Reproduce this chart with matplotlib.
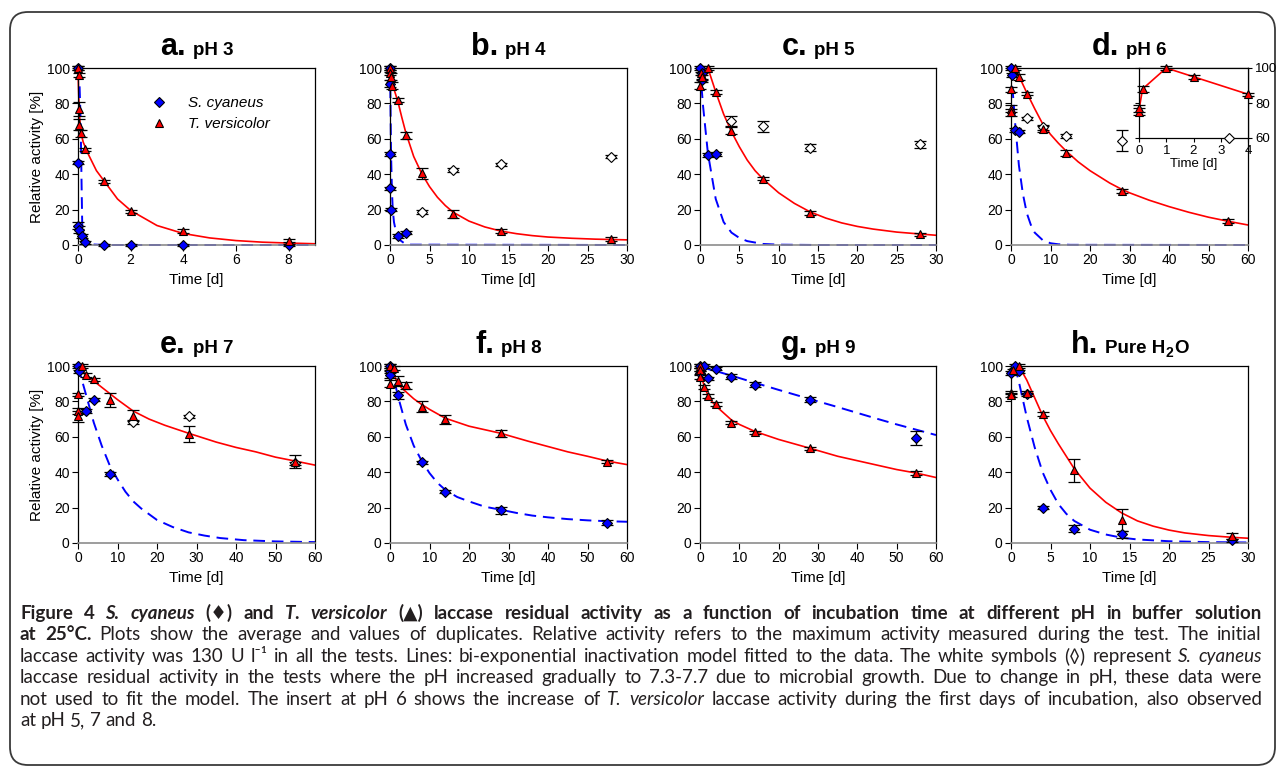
import numpy as np
import matplotlib
matplotlib.use('Agg')
import matplotlib.pyplot as plt
from matplotlib.lines import Line2D
from matplotlib.patches import FancyBboxPatch
from matplotlib.transforms import IdentityTransform

plt.rcParams['font.family'] = ['Liberation Sans', 'DejaVu Sans']

W, H = 1284, 768
BLUE = '#0000ff'
RED = '#ff0000'

#Panel a: pH 3
a_tv_t = [0, 0.02, 0.02, 0.05, 0.1, 0.25, 1, 2, 4, 8]
a_tv_v = [100, 96, 77, 68, 63, 54, 36, 19, 8, 2.5]
a_tv_e = [1, 1, 4, 3, 2, 1, 1, 1, 1, 1]
a_sc_t = [0, 0, 0, 0.05, 0.15, 0.25, 1, 2, 4, 8]
a_sc_v = [100, 46.5, 11, 8.5, 5, 1.5, 0, 0, 0, 0]
a_sc_e = [1, 1, 2, 2, 1, 1, 0.5, 0.5, 0.5, 0.5]
a_fit_tv_t = [0, 0.02, 0.05, 0.1, 0.2, 0.4, 0.7, 1, 1.5, 2, 3, 4, 5, 6, 7, 8, 9]
a_fit_tv_v = [100, 88, 75, 64, 58, 51, 42, 36, 26, 19.5, 11, 6.5, 4, 2.5, 1.6, 1.1, 0.7]
a_fit_sc_t = [0, 0.05, 0.1, 0.13, 0.16, 0.2, 0.3, 1, 9]
a_fit_sc_v = [100, 95, 70, 40, 12, 3, 0.5, 0, 0]

#Panel b: pH 4
b_tv_t = [0, 0.05, 0.1, 0.2, 1, 2, 4, 8, 14, 28]
b_tv_v = [100, 97, 95, 90, 82, 62, 40.5, 17.5, 8, 3.5]
b_tv_e = [1, 1, 2, 2, 1, 2, 3, 2, 1, 1]
b_sc_t = [0, 0, 0, 0, 0.1, 1, 2]
b_sc_v = [100, 91, 51.5, 32, 20, 5, 7]
b_sc_e = [1, 2, 1, 1, 1, 1, 1]
b_wh_t = [4, 8, 14, 28]
b_wh_v = [18.5, 42.5, 45.5, 50]
b_wh_e = [1, 1, 1, 1]
b_fit_tv_t = [0, 0.3, 1, 1.5, 2, 3, 4, 5, 6, 7, 8, 10, 12, 14, 16, 18, 20, 23, 26, 30]
b_fit_tv_v = [97, 91, 81, 72, 63.5, 50, 40.5, 33, 27, 22.3, 18.5, 13.5, 10.2, 7.9, 6.4, 5.3, 4.5, 3.8, 3.3, 2.9]
b_fit_sc_t = [0, 0.05, 0.13, 0.25, 0.35, 0.5, 0.8, 1.2, 1.8, 2.5, 30]
b_fit_sc_v = [100, 85, 52, 30, 20, 13, 6.5, 3, 1, 0.2, 0]

#Panel c: pH 5
c_tv_t = [0, 0.1, 0.2, 1, 2, 4, 8, 14, 28]
c_tv_v = [90, 97, 95, 100, 86.5, 64.5, 37.5, 18, 6]
c_tv_e = [2, 1, 2, 1, 1, 2, 1, 1, 1]
c_sc_t = [0, 0.2, 0.2, 1, 2]
c_sc_v = [100, 97, 93, 51, 51.5]
c_sc_e = [1, 1, 1, 1, 1]
c_wh_t = [4, 8, 14, 28]
c_wh_v = [70, 67, 55, 57]
c_wh_e = [3, 3, 2, 2]
c_fit_tv_t = [1, 2, 3, 4, 5, 6, 7, 8, 10, 12, 14, 16, 18, 20, 22, 25, 28, 30]
c_fit_tv_v = [100, 86.5, 74, 64, 55.5, 48, 42, 37.3, 29.5, 23.5, 18.7, 15.2, 12.5, 10.5, 9, 7.3, 6.2, 5.5]
c_fit_sc_t = [0, 0.4, 1, 2, 3, 4, 5, 6, 8, 10, 15, 30]
c_fit_sc_v = [100, 78, 52, 26, 13, 7, 4, 2.2, 0.6, 0.2, 0, 0]

#Panel d: pH 6
d_tv_t = [0, 0, 0, 1, 2, 4, 8, 14, 28, 55]
d_tv_v = [88, 77, 75, 100, 95, 85.5, 65.5, 52, 30.5, 13.5]
d_tv_e = [1.5, 2, 2, 1, 1.5, 1, 1.5, 1.5, 1, 1]
d_sc_t = [0, 0.2, 1, 2]
d_sc_v = [100, 96, 65, 64]
d_sc_e = [1, 1, 1, 1]
d_wh_t = [4, 8, 14, 28]
d_wh_v = [71.5, 66.5, 61.5, 59]
d_wh_e = [1, 1.5, 1, 6]
d_fit_tv_t = [1, 2, 4, 6, 8, 10, 12, 14, 17, 20, 25, 28, 30, 35, 40, 45, 50, 55, 60]
d_fit_tv_v = [100, 95.5, 86, 77, 68.5, 62.5, 57.5, 53, 47, 42, 35, 31.5, 29.5, 25.3, 21.7, 18.5, 15.7, 13.4, 11.3]
d_fit_sc_t = [0, 0.5, 1, 2, 3, 4, 5, 6, 8, 10, 12, 15, 60]
d_fit_sc_v = [100, 85, 70, 45, 29, 18, 11.5, 7, 2.8, 1, 0.4, 0.1, 0]
#insert of panel d (first days)
d_in_t = [0, 0, 0.13, 1, 2, 4]
d_in_v = [75, 77, 88, 100, 95, 85]
d_in_e = [2, 2, 1.5, 1, 1, 1]
d_in_line_t = [0, 0.13, 1, 2, 4]
d_in_line_v = [76, 88, 100, 95, 85]
d_in_wh_t = [3.3]
d_in_wh_v = [60]

#Panel e: pH 7
e_tv_t = [0, 0, 0, 1, 2, 4, 8, 14, 28, 55]
e_tv_v = [84, 74.5, 71.5, 100, 95, 92.5, 81, 72, 61.5, 46]
e_tv_e = [1, 1.5, 3, 1, 1, 1, 4, 3, 4.5, 3.5]
e_sc_t = [0, 0.2, 2, 4, 8]
e_sc_v = [100, 97, 74.5, 81, 39]
e_sc_e = [1, 1, 1, 1, 1]
e_wh_t = [14, 28, 55]
e_wh_v = [68.5, 71.5, 45]
e_wh_e = [1, 1, 1]
e_fit_tv_t = [0.5, 1, 2, 4, 6, 8, 10, 14, 18, 22, 28, 35, 40, 45, 50, 55, 60]
e_fit_tv_v = [99, 97.5, 95, 91.5, 88, 84.5, 81, 74.5, 70, 66.5, 62, 57, 54, 51.5, 48.5, 46.3, 44]
e_fit_sc_t = [0, 1, 2, 3, 4, 6, 8, 10, 12, 14, 16, 20, 24, 28, 32, 36, 42, 50, 60]
e_fit_sc_v = [100, 92, 84, 76, 68, 55, 44, 36, 29, 23.5, 19.5, 13, 9, 6, 4.2, 2.8, 1.6, 0.9, 0.5]

#Panel f: pH 8
f_tv_t = [0, 0, 1, 2, 4, 8, 14, 28, 55]
f_tv_v = [100, 90, 99, 91.5, 89, 77, 70, 62, 46]
f_tv_e = [1, 2, 1, 3, 2, 3, 2.5, 2, 1]
f_sc_t = [0, 0, 0, 2, 8, 14, 28, 55]
f_sc_v = [100, 97, 95, 83.5, 45.5, 29, 18.5, 11.5]
f_sc_e = [1, 1, 2, 2, 1, 1, 2, 1.5]
f_fit_tv_t = [0.2, 1, 2, 3, 4, 6, 8, 10, 14, 20, 28, 35, 40, 45, 50, 55, 60]
f_fit_tv_v = [100, 95, 90, 87.5, 85.5, 81.5, 78.3, 75.5, 70.5, 66, 62, 57.5, 54.5, 51.5, 49, 46.3, 44.3]
f_fit_sc_t = [0, 1, 2, 3, 4, 6, 8, 10, 12, 14, 17, 20, 24, 28, 32, 36, 40, 45, 50, 55, 60]
f_fit_sc_v = [100, 93, 83, 75, 67, 55, 46.5, 39.5, 34, 30, 26, 23.5, 20.5, 18.8, 17, 15.5, 14.5, 13.5, 12.8, 12.3, 12]

#Panel g: pH 9
g_tv_t = [0, 0, 0, 1, 2, 4, 8, 14, 28, 55]
g_tv_v = [100, 98, 94, 88, 83, 78.5, 68, 62.5, 53.5, 39.5]
g_tv_e = [1, 1, 1.5, 1, 1, 1, 1, 1, 1, 1]
g_sc_t = [0, 0, 1, 2, 4, 8, 14, 28, 55]
g_sc_v = [100, 96, 100, 93, 98.5, 94, 89.5, 81, 59.5]
g_sc_e = [1, 1, 1, 1, 1, 1.5, 1.5, 1.5, 4]
g_fit_tv_t = [0, 0.5, 1, 2, 3, 4, 6, 8, 10, 14, 20, 28, 35, 40, 45, 50, 55, 60]
g_fit_tv_v = [100, 93, 89, 83.5, 80, 77.5, 73.5, 69.5, 67, 63, 58.5, 53.5, 49, 46.5, 44, 41.5, 39.5, 37]
g_fit_sc_t = [0, 5, 10, 14, 20, 28, 35, 40, 45, 50, 55, 60]
g_fit_sc_v = [99.5, 96.5, 93.2, 90.5, 86.5, 81.3, 76.8, 73.5, 70.2, 67, 64, 61]

#Panel h: pure water
h_tv_t = [0, 0, 0.3, 1, 2, 4, 8, 14, 28]
h_tv_v = [85, 83.5, 97.5, 100, 85, 73, 41, 13, 4]
h_tv_e = [1, 1, 1, 1, 1, 1, 6.5, 6, 1.5]
h_sc_t = [0, 0.5, 1, 2, 4, 8, 14, 28]
h_sc_v = [96, 100, 97, 84, 20, 8, 5, 1.5]
h_sc_e = [1, 1, 1, 1, 1, 2, 2, 1]
h_fit_tv_t = [1, 2, 3, 4, 5, 6, 8, 10, 12, 14, 16, 18, 20, 22, 25, 28, 30]
h_fit_tv_v = [100, 92, 82, 72, 63.5, 56, 42, 31, 23, 17, 12.5, 9.5, 7.3, 5.7, 4.2, 3.2, 2.7]
h_fit_sc_t = [0.5, 1, 1.5, 2, 3, 4, 5, 6, 7, 8, 10, 12, 14, 16, 20, 25, 30]
h_fit_sc_v = [100, 91, 81, 71, 54, 40, 30, 22, 16.5, 12.5, 7.5, 4.8, 3, 2, 1, 0.5, 0.3]

#Caption lines (text, style)
cap_lines = [
    [('Figure 4', 'b'), ('S. cyaneus', 'bi'), ('(\u2666) and', 'b'), ('T. versicolor', 'bi'),
     ('(\u25b2) laccase residual activity as a function of incubation time at different pH in buffer solution', 'b')],
    [('at 25\u00b0C.', 'b'),
     ('Plots show the average and values of duplicates. Relative activity refers to the maximum activity measured during the test. The initial', 'r')],
    [('laccase activity was 130 U l\u207b\u00b9 in all the tests. Lines: bi-exponential inactivation model fitted to the data. The white symbols (\u25ca) represent', 'r'),
     ('S. cyaneus', 'i')],
    [('laccase residual activity in the tests where the pH increased gradually to 7.3-7.7 due to microbial growth. Due to change in pH, these data were', 'r')],
    [('not used to fit the model. The insert at pH 6 shows the increase of', 'r'), ('T. versicolor', 'i'),
     ('laccase activity during the first days of incubation, also observed', 'r')],
    [('at pH 5, 7 and 8.', 'r')],
]

fig = plt.figure(figsize=(W / 100, H / 100), dpi=100)
fig.patch.set_facecolor('white')
renderer = fig.canvas.get_renderer()
PIX = IdentityTransform()

def px_axes(l, t, r, b):
    return fig.add_axes([l / W, 1 - b / H, (r - l) / W, (b - t) / H])

def style_axes(ax, xmax, xticks):
    ax.set_xlim(0, xmax)
    ax.set_ylim(0, 100)
    ax.set_xticks(xticks)
    ax.set_yticks([0, 20, 40, 60, 80, 100])
    ax.tick_params(direction='out', length=4, width=0.8, labelsize=10, pad=2, top=False, right=False)
    for s in ax.spines.values():
        s.set_linewidth(0.9)
        s.set_color('black')
    ax.spines['bottom'].set_color('#8c8c8c')
    ax.spines['bottom'].set_linewidth(1.2)
    ax.set_xlabel('Time [d]', fontsize=11, labelpad=4)

def draw_points(ax, t, v, e, marker, face, ms):
    cont = ax.errorbar(t, v, yerr=e, fmt='none', ecolor='black', elinewidth=0.9,
                       capsize=4, capthick=0.9, zorder=3)
    for art in list(cont.lines[1]) + list(cont.lines[2]):
        art.set_clip_on(False)
    ax.plot(t, v, ls='none', marker=marker, mfc=face, mec='black', mew=0.8, ms=ms,
            zorder=4, clip_on=False)

def draw_fits(ax, tv_t, tv_v, sc_t, sc_v):
    ax.plot(tv_t, tv_v, color=RED, lw=1.2, zorder=2, clip_on=False)
    ax.plot(sc_t, sc_v, color=BLUE, lw=1.4, ls=(0, (6, 3.5)), zorder=2, clip_on=False)

def text_width(s, kw):
    t = fig.text(0, 0, s, transform=PIX, **kw)
    w = t.get_window_extent(renderer).width
    t.remove()
    return w

BIG = dict(fontsize=22, fontweight='bold')
SMALL = dict(fontsize=13.5, fontweight='bold')
SUB = dict(fontsize=10, fontweight='bold')

def panel_title(box, runs):
    l, t, r, b = box
    total = sum(g + text_width(s, kw) for s, kw, g, dy in runs)
    x = (l + r) / 2 - total / 2
    y = H - (t - 13)
    for s, kw, g, dy in runs:
        x += g
        fig.text(x, y + dy, s, transform=PIX, va='baseline', **kw)
        x += text_width(s, kw)

panels = [
    ('a.', 'pH 3', (78, 68, 315, 245), 9, [0, 2, 4, 6, 8],
     (a_tv_t, a_tv_v, a_tv_e), (a_sc_t, a_sc_v, a_sc_e), None,
     (a_fit_tv_t, a_fit_tv_v, a_fit_sc_t, a_fit_sc_v)),
    ('b.', 'pH 4', (390, 68, 627, 245), 30, [0, 5, 10, 15, 20, 25, 30],
     (b_tv_t, b_tv_v, b_tv_e), (b_sc_t, b_sc_v, b_sc_e), (b_wh_t, b_wh_v, b_wh_e),
     (b_fit_tv_t, b_fit_tv_v, b_fit_sc_t, b_fit_sc_v)),
    ('c.', 'pH 5', (700, 68, 936, 245), 30, [0, 5, 10, 15, 20, 25, 30],
     (c_tv_t, c_tv_v, c_tv_e), (c_sc_t, c_sc_v, c_sc_e), (c_wh_t, c_wh_v, c_wh_e),
     (c_fit_tv_t, c_fit_tv_v, c_fit_sc_t, c_fit_sc_v)),
    ('d.', 'pH 6', (1011, 68, 1248, 245), 60, [0, 10, 20, 30, 40, 50, 60],
     (d_tv_t, d_tv_v, d_tv_e), (d_sc_t, d_sc_v, d_sc_e), (d_wh_t, d_wh_v, d_wh_e),
     (d_fit_tv_t, d_fit_tv_v, d_fit_sc_t, d_fit_sc_v)),
    ('e.', 'pH 7', (78, 366, 315, 543), 60, [0, 10, 20, 30, 40, 50, 60],
     (e_tv_t, e_tv_v, e_tv_e), (e_sc_t, e_sc_v, e_sc_e), (e_wh_t, e_wh_v, e_wh_e),
     (e_fit_tv_t, e_fit_tv_v, e_fit_sc_t, e_fit_sc_v)),
    ('f.', 'pH 8', (390, 366, 627, 543), 60, [0, 10, 20, 30, 40, 50, 60],
     (f_tv_t, f_tv_v, f_tv_e), (f_sc_t, f_sc_v, f_sc_e), None,
     (f_fit_tv_t, f_fit_tv_v, f_fit_sc_t, f_fit_sc_v)),
    ('g.', 'pH 9', (700, 366, 936, 543), 60, [0, 10, 20, 30, 40, 50, 60],
     (g_tv_t, g_tv_v, g_tv_e), (g_sc_t, g_sc_v, g_sc_e), None,
     (g_fit_tv_t, g_fit_tv_v, g_fit_sc_t, g_fit_sc_v)),
    ('h.', 'Pure H2O', (1011, 366, 1248, 543), 30, [0, 5, 10, 15, 20, 25, 30],
     (h_tv_t, h_tv_v, h_tv_e), (h_sc_t, h_sc_v, h_sc_e), None,
     (h_fit_tv_t, h_fit_tv_v, h_fit_sc_t, h_fit_sc_v)),
]

for letter, cond, box, xmax, xticks, tv, sc, wh, fits in panels:
    ax = px_axes(*box)
    style_axes(ax, xmax, xticks)
    draw_fits(ax, *fits)
    draw_points(ax, sc[0], sc[1], sc[2], 'D', BLUE, 5.5)
    if wh is not None:
        draw_points(ax, wh[0], wh[1], wh[2], 'D', 'white', 5.5)
    draw_points(ax, tv[0], tv[1], tv[2], '^', RED, 5.5)
    if letter in ('a.', 'e.'):
        ax.set_ylabel('Relative activity [%]', fontsize=11, labelpad=2)
    if letter == 'a.':
        handles = [Line2D([], [], ls='none', marker='D', mfc=BLUE, mec='black', mew=0.8, ms=5.5),
                   Line2D([], [], ls='none', marker='^', mfc=RED, mec='black', mew=0.8, ms=5.5)]
        ax.legend(handles, ['S. cyaneus', 'T. versicolor'], loc='upper left',
                  bbox_to_anchor=(0.31, 0.84), frameon=False, borderpad=0, borderaxespad=0,
                  handlelength=1.0, handletextpad=1.4, labelspacing=0.45,
                  prop=dict(style='italic', size=11))
    if cond == 'Pure H2O':
        runs = [(letter, BIG, 0, 0), ('Pure H', SMALL, 7, 0), ('2', SUB, 0.5, -4), ('O', SMALL, 0.5, 0)]
    else:
        runs = [(letter, BIG, 0, 0), (cond, SMALL, 7, 0)]
    panel_title(box, runs)

#insert of panel d
ax_in = px_axes(1139, 68, 1248, 138)
ax_in.set_facecolor('white')
ax_in.set_zorder(5)
ax_in.set_xlim(0, 4)
ax_in.set_ylim(60, 100)
ax_in.set_xticks([0, 1, 2, 3, 4])
ax_in.set_yticks([60, 80, 100])
ax_in.tick_params(direction='out', length=3, width=0.8, labelsize=9.5, pad=2,
                  left=True, right=True, labelleft=False, labelright=True)
for s in ax_in.spines.values():
    s.set_linewidth(0.9)
ax_in.set_xlabel('Time [d]', fontsize=9.5, labelpad=1)
ax_in.plot(d_in_line_t, d_in_line_v, color=RED, lw=1.2, zorder=2, clip_on=False)
draw_points(ax_in, d_in_t, d_in_v, d_in_e, '^', RED, 5.5)
ax_in.plot(d_in_wh_t, d_in_wh_v, ls='none', marker='D', mfc='white', mec='black', mew=0.8,
           ms=5.5, zorder=4, clip_on=False)

#outer frame
fig.add_artist(FancyBboxPatch((10, 3), 1265, 753, boxstyle='round,pad=0,rounding_size=18',
                              transform=PIX, fill=False, ec='#3a3a3a', lw=1.3))

#caption, justified word by word
CAP_FAM = ['Lato', 'DejaVu Sans']
CAP_STYLES = {'b': dict(fontweight='bold'), 'bi': dict(fontweight='bold', style='italic'),
              'r': dict(), 'i': dict(style='italic')}
cap_left, cap_right = 20, 1262

def caption_words(line):
    words = []
    for s, st in line:
        for w in s.split():
            words.append((w, st))
    return words

def word_kw(st, size):
    kw = dict(family=CAP_FAM, fontsize=size, color='#231f20')
    kw.update(CAP_STYLES[st])
    return kw

def fit_size(line, base=12.0):
    words = caption_words(line)
    nat = sum(text_width(w, word_kw(st, base)) for w, st in words)
    nat += 0.25 * base * 100 / 72 * (len(words) - 1)
    return base * (cap_right - cap_left) / nat * 0.99

bold_size = min(13.5, fit_size(cap_lines[0]))
reg_size = min(13.5, fit_size(cap_lines[3]))

for i, line in enumerate(cap_lines):
    size = bold_size if i == 0 else reg_size
    words = caption_words(line)
    ws = [text_width(w, word_kw(st, size)) for w, st in words]
    if i < len(cap_lines) - 1:
        gap = (cap_right - cap_left - sum(ws)) / (len(ws) - 1)
    else:
        gap = 0.25 * size * 100 / 72
    x = cap_left
    y = H - (619 + 21.4 * i)
    for (w, st), wd in zip(words, ws):
        fig.text(x, y, w, transform=PIX, va='baseline', **word_kw(st, size))
        x += wd + gap

fig.savefig('out.png', dpi=100, facecolor='white')
